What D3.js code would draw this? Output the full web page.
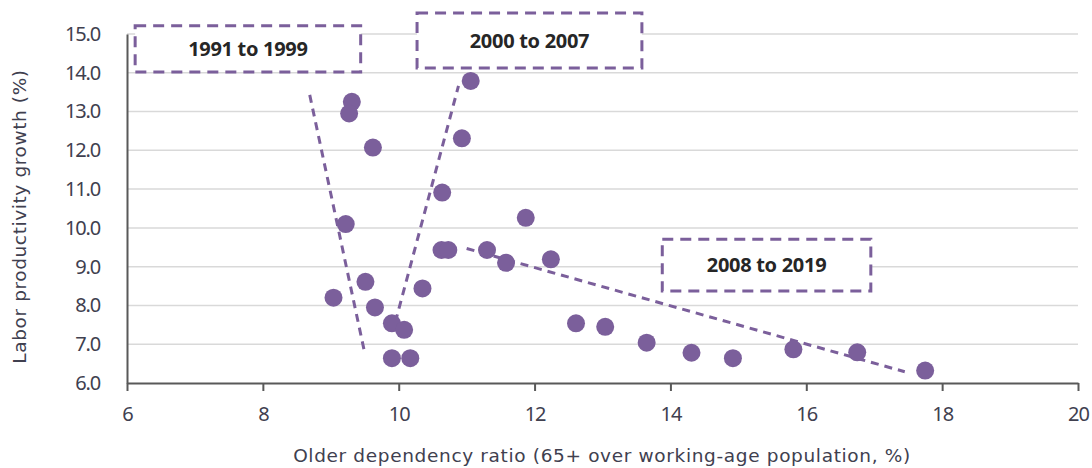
<!DOCTYPE html>
<html>
<head>
<meta charset="utf-8">
<script src="https://cdn.jsdelivr.net/npm/d3@7"></script>
<style>
  html, body { margin: 0; padding: 0; background: #fff; }
  svg { display: block; }
</style>
</head>
<body>
<svg id="chart" width="1092" height="468"></svg>
<script>
// ---- Data ----
const xTicks = [6, 8, 10, 12, 14, 16, 18, 20];
const yTicks = [6, 7, 8, 9, 10, 11, 12, 13, 14, 15];

// 1991 to 1999
const ratio1991 = [9.31, 9.27, 9.62, 9.22, 9.04, 9.51, 9.65, 9.90, 9.90];
const growth1991 = [13.25, 12.95, 12.07, 10.10, 8.20, 8.61, 7.95, 7.54, 6.64];
// 2000 to 2007
const ratio2000 = [10.08, 10.17, 10.35, 10.63, 10.73, 10.64, 10.93, 11.06];
const growth2000 = [7.37, 6.64, 8.44, 9.43, 9.43, 10.91, 12.31, 13.79];
// 2008 to 2019
const ratio2008 = [11.87, 11.30, 11.58, 12.24, 12.61, 13.04, 13.65, 14.31, 14.92, 15.81, 16.75, 17.75];
const growth2008 = [10.26, 9.43, 9.10, 9.19, 7.54, 7.45, 7.04, 6.78, 6.64, 6.87, 6.79, 6.32];

// dashed trend lines [x0, y0, x1, y1]
const trend1991 = [8.69, 13.43, 9.50, 6.77];
const trend2000 = [9.95, 7.57, 10.88, 13.66];
const trend2008 = [11.0, 9.47, 17.45, 6.29];

const periodLabels = ["1991 to 1999", "2000 to 2007", "2008 to 2019"];

const xTitle = "Older dependency ratio (65+ over working-age population, %)";
const yTitle = "Labor productivity growth (%)";

// ---- Drawing ----
const purple = "#7b5f9b";
const textCol = "#40404f";
const svg = d3.select("#chart");
const x = d3.scaleLinear().domain([6, 20]).range([127, 1078]);
const y = d3.scaleLinear().domain([6, 15]).range([383, 34]);

// gridlines
svg.append("g").selectAll("line").data(yTicks.filter(d => d > 6)).join("line")
  .attr("x1", x(6)).attr("x2", x(20))
  .attr("y1", d => y(d)).attr("y2", d => y(d))
  .attr("stroke", "#d9d9d9").attr("stroke-width", 1.5);

// y axis
const yAxis = svg.append("g").attr("transform", `translate(${x(6)},0)`)
  .call(d3.axisLeft(y).tickValues(yTicks).tickFormat(d3.format(".1f")).tickSize(0).tickPadding(27));
yAxis.select(".domain").attr("stroke", "#595959").attr("stroke-width", 2);
yAxis.selectAll("text").attr("font-family", "Noto Sans, sans-serif").attr("font-size", 20)
  .attr("letter-spacing", "-1.2px").attr("fill", textCol);

// x axis
const xAxis = svg.append("g").attr("transform", `translate(0,${y(6)})`)
  .call(d3.axisBottom(x).tickValues(xTicks).tickSizeOuter(0).tickSizeInner(8).tickPadding(16));
xAxis.select(".domain").attr("stroke", "#595959").attr("stroke-width", 2);
xAxis.selectAll(".tick line").attr("stroke", "#595959").attr("stroke-width", 2);
xAxis.selectAll("text").attr("font-family", "Noto Sans, sans-serif").attr("font-size", 20)
  .attr("letter-spacing", "-1px").attr("fill", textCol);

// axis titles
svg.append("text").attr("x", 602).attr("y", 462)
  .attr("text-anchor", "middle").attr("font-family", "DejaVu Sans, sans-serif")
  .attr("font-size", 18.5).attr("letter-spacing", "0.65px").attr("fill", textCol).text(xTitle);
svg.append("text").attr("transform", `translate(26,${(y(6) + y(15)) / 2 + 8}) rotate(-90)`)
  .attr("text-anchor", "middle").attr("font-family", "DejaVu Sans, sans-serif")
  .attr("font-size", 18.5).attr("letter-spacing", "0.6px").attr("fill", textCol).text(yTitle);

// trend lines
const trends = [trend1991, trend2000, trend2008];
svg.append("g").selectAll("line").data(trends).join("line")
  .attr("x1", d => x(d[0])).attr("y1", d => y(d[1]))
  .attr("x2", d => x(d[2])).attr("y2", d => y(d[3]))
  .attr("stroke", purple).attr("stroke-width", 3).attr("stroke-dasharray", "8,6");

// points
const pts = [];
[[ratio1991, growth1991], [ratio2000, growth2000], [ratio2008, growth2008]].forEach(([xs, ys]) => {
  xs.forEach((v, i) => pts.push({ x: v, y: ys[i] }));
});
svg.append("g").selectAll("circle").data(pts).join("circle")
  .attr("cx", d => x(d.x)).attr("cy", d => y(d.y)).attr("r", 9)
  .attr("fill", purple);

// label boxes (position in data space)
const boxes = [
  { label: periodLabels[0], x0: 6.12, x1: 9.44, y0: 14.02, y1: 15.21 },
  { label: periodLabels[1], x0: 10.27, x1: 13.58, y0: 14.12, y1: 15.54 },
  { label: periodLabels[2], x0: 13.88, x1: 16.95, y0: 8.37, y1: 9.71 }
];
const bg = svg.append("g").selectAll("g").data(boxes).join("g");
bg.append("rect")
  .attr("x", d => x(d.x0)).attr("y", d => y(d.y1))
  .attr("width", d => x(d.x1) - x(d.x0)).attr("height", d => y(d.y0) - y(d.y1))
  .attr("fill", "#fff").attr("stroke", purple).attr("stroke-width", 3)
  .attr("stroke-dasharray", "11,7");
bg.append("text")
  .attr("x", d => (x(d.x0) + x(d.x1)) / 2).attr("y", d => (y(d.y0) + y(d.y1)) / 2)
  .attr("dy", "0.35em").attr("text-anchor", "middle")
  .attr("font-family", "Noto Sans, sans-serif").attr("font-weight", "bold")
  .attr("font-size", 20).attr("fill", "#262626").attr("letter-spacing", "-0.3px")
  .text(d => d.label);
</script>
</body>
</html>
